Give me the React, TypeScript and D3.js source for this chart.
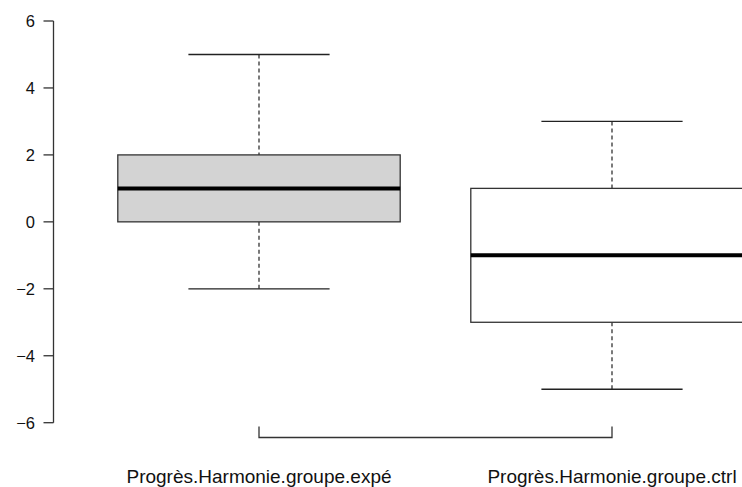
import React from 'react';
import * as d3 from 'd3';

const groups = ['Progrès.Harmonie.groupe.expé', 'Progrès.Harmonie.groupe.ctrl'];
const lowerWhisker = [-2, -5];
const q1 = [0, -3];
const medians = [1, -1];
const q3 = [2, 1];
const upperWhisker = [5, 3];
const fills = ['#d3d3d3', '#ffffff'];
const yTicks = [-6, -4, -2, 0, 2, 4, 6];

const W = 742;
const H = 487;

const App: React.FC = () => {
   // R style: boxes at 1 and 2, xlim 0.5..2.5
   const x = d3.scaleLinear().domain([1, 2]).range([259, 612]);
   const y = d3.scaleLinear().domain([-6, 6]).range([422.7, 21]);
   const unit = x(2) - x(1);
   const boxHalf = 0.4 * unit;
   const capHalf = 0.2 * unit;
   const axisX = 53.5;
   const bottomY = 437.5;
   const font = '"Liberation Sans", Arial, sans-serif';

   return (
      <svg
         width={W}
         height={H}
         style={{ position: 'absolute', left: 0, top: 0, background: '#fff' }}
      >
         {/* y axis */}
         <g stroke="#333" strokeWidth={1.3} fill="none">
            <line x1={axisX} x2={axisX} y1={y(-6)} y2={y(6)} />
            {yTicks.map((t) => (
               <line key={t} x1={axisX - 10} x2={axisX} y1={y(t)} y2={y(t)} />
            ))}
         </g>
         {yTicks.map((t) => (
            <text
               key={t}
               x={35}
               y={y(t)}
               dy="0.36em"
               textAnchor="end"
               fontFamily={font}
               fontSize={16.5}
               fill="#111"
            >
               {t < 0 ? '\u2212' + Math.abs(t) : t}
            </text>
         ))}

         {/* boxes */}
         {groups.map((g, i) => {
            const cx = x(i + 1);
            return (
               <g key={g}>
                  <line
                     x1={cx} x2={cx} y1={y(upperWhisker[i])} y2={y(q3[i])}
                     stroke="#222" strokeWidth={1.2} strokeDasharray="4,3"
                  />
                  <line
                     x1={cx} x2={cx} y1={y(q1[i])} y2={y(lowerWhisker[i])}
                     stroke="#222" strokeWidth={1.2} strokeDasharray="4,3"
                  />
                  <line
                     x1={cx - capHalf} x2={cx + capHalf}
                     y1={y(upperWhisker[i])} y2={y(upperWhisker[i])}
                     stroke="#222" strokeWidth={1.3}
                  />
                  <line
                     x1={cx - capHalf} x2={cx + capHalf}
                     y1={y(lowerWhisker[i])} y2={y(lowerWhisker[i])}
                     stroke="#222" strokeWidth={1.3}
                  />
                  <rect
                     x={cx - boxHalf}
                     y={y(q3[i])}
                     width={2 * boxHalf}
                     height={y(q1[i]) - y(q3[i])}
                     fill={fills[i]}
                     stroke="#333"
                     strokeWidth={1.3}
                  />
                  <line
                     x1={cx - boxHalf} x2={cx + boxHalf}
                     y1={y(medians[i])} y2={y(medians[i])}
                     stroke="#000" strokeWidth={4}
                  />
               </g>
            );
         })}

         {/* x axis */}
         <path
            d={`M${x(1)},${bottomY - 11}V${bottomY}H${x(2)}V${bottomY - 11}`}
            fill="none"
            stroke="#333"
            strokeWidth={1.3}
         />
         {groups.map((g, i) => (
            <text
               key={g}
               x={x(i + 1)}
               y={483}
               textAnchor="middle"
               fontFamily={font}
               fontSize={19}
               fill="#111"
            >
               {g}
            </text>
         ))}
      </svg>
   );
};

export default App;
